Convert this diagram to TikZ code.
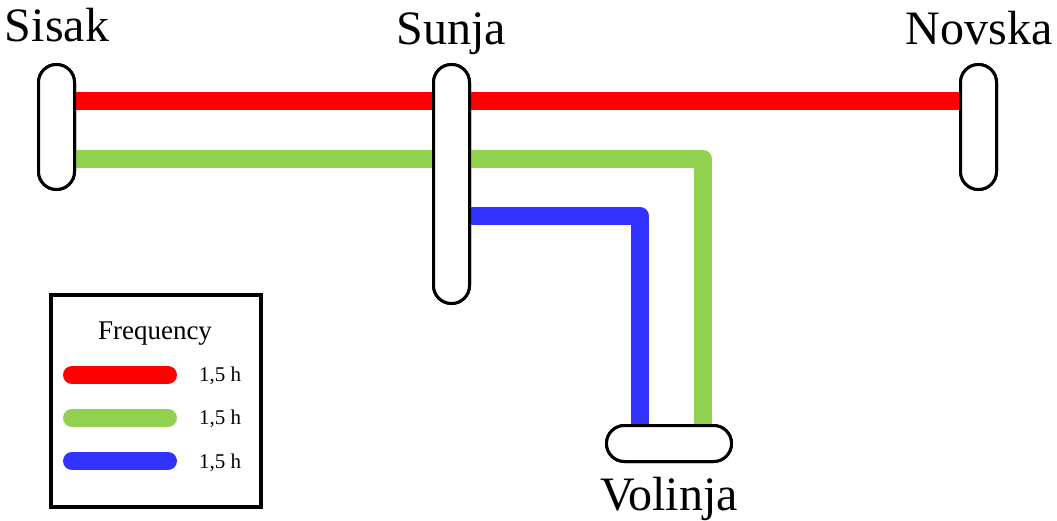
\documentclass[tikz,border=0pt]{standalone}
\usepackage{fontspec}
\setmainfont{Liberation Serif}
\newfontfamily\lblfont{Liberation Serif}
\usetikzlibrary{calc}
\definecolor{rl}{HTML}{FF0000}
\definecolor{gl}{HTML}{92D050}
\definecolor{bl}{HTML}{3333FF}
\tikzset{
  station/.style={draw=black, fill=white, line width=3pt, rounded corners=18pt, inner sep=0pt},
  vstation/.style={station, minimum width=36pt},
  hstation/.style={station, minimum height=36pt, minimum width=125pt},
  bigtxt/.style={anchor=base, inner sep=0pt, scale=2, font=\lblfont\fontsize{24}{24}\selectfont},
  route/.style={line width=18pt, line join=round},
  legtxt/.style={anchor=base west, inner sep=0pt, font=\lblfont\fontsize{21}{21}\selectfont},
}
\begin{document}
\begin{tikzpicture}[x=1pt,y=-1pt]
\useasboundingbox (0,0) rectangle (1057,521);
% stations
\node[vstation, minimum height=125pt] (sisak) at (56.5,127) {};
\node[vstation, minimum height=239pt] (sunja) at (451.5,184) {};
\node[vstation, minimum height=125pt] (novska) at (978.5,127) {};
\node[hstation] (volinja) at (669,443.5) {};
% labels
\node[bigtxt] (lsisak) at (57,42) {Sisak};
\node[bigtxt] (lsunja) at (451,45) {Sunja};
\node[bigtxt] (lnovska) at (979,45) {Novska};
\node[bigtxt] (lvolinja) at (669,510) {Volinja};
% routes
\coordinate (gend) at ([xshift=34pt]volinja.north);
\coordinate (bend) at ([xshift=-29pt]volinja.north);
\draw[route, rl] ([yshift=26pt]sisak.east) -- ([yshift=26pt]novska.west);
\draw[route, gl] ([yshift=-32pt]sisak.east) -| (gend);
\draw[route, bl] ([yshift=-32pt]sunja.east) -| (bend);
% stations on top
\node[vstation, minimum height=125pt] at (sisak) {};
\node[vstation, minimum height=239pt] at (sunja) {};
\node[vstation, minimum height=125pt] at (novska) {};
\node[hstation] at (volinja) {};
% legend
\node[draw=black, line width=4pt, minimum width=210pt, minimum height=212pt, inner sep=0pt] (legend) at (156,401) {};
\node[anchor=base, inner sep=0pt, font=\lblfont\fontsize{27}{27}\selectfont] (legtitle) at (155,339) {Frequency};
\coordinate (r1) at (72,375); \coordinate (r2) at (168,375);
\coordinate (g1) at (72,418); \coordinate (g2) at (168,418);
\coordinate (b1) at (72,461); \coordinate (b2) at (168,461);
\draw[rl, line width=18pt, line cap=round] (r1) -- (r2);
\draw[gl, line width=18pt, line cap=round] (g1) -- (g2);
\draw[bl, line width=18pt, line cap=round] (b1) -- (b2);
\node[legtxt] (t1) at (199,381) {1,5 h};
\node[legtxt] (t2) at (199,424) {1,5 h};
\node[legtxt] (t3) at (199,468) {1,5 h};
\end{tikzpicture}
\end{document}
